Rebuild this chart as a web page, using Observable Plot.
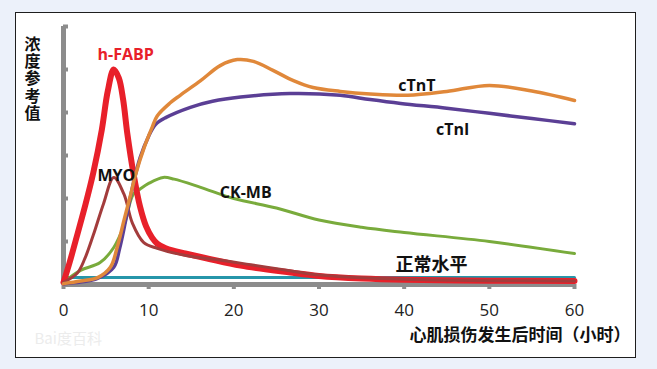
<!DOCTYPE html>
<html>
<head>
<meta charset="utf-8">
<script src="https://cdn.jsdelivr.net/npm/d3@7"></script>
<script src="https://cdn.jsdelivr.net/npm/@observablehq/plot@0.6"></script>
<style>
  html, body { margin: 0; padding: 0; background: #ecf1fa; width: 657px; height: 369px; overflow: hidden; }
  #box { position: absolute; left: 15px; top: 12px; width: 621px; height: 346px; background: #fff; border: 1.5px solid #1e1e1e; box-sizing: border-box; }
  #chart { position: absolute; left: 0; top: 0; }
</style>
</head>
<body>
<div id="box"></div>
<div id="chart"></div>
<script>
// ---- data (hours after myocardial injury, relative concentration) ----
const hfabpT = [0,0.7,1.4,2.5,3.5,4.5,5.2,5.9,6.5,7,7.5,8.2,9,9.7,10.4,11,12,13,14.3,17,20.8,26.6,30,35,40,50,60];
const hfabpV = [0.05,0.5,1.0,1.8,2.6,3.6,4.5,5.0,4.8,4.3,3.5,2.6,1.8,1.35,1.09,0.95,0.84,0.78,0.72,0.6,0.44,0.28,0.2,0.14,0.11,0.09,0.08];

const myoT = [0,1.6,2.5,3.5,4.7,5.9,7.1,8.1,9.4,11,14.5,18,22,26.6,30,40,50,60];
const myoV = [0.05,0.26,0.6,1.15,1.88,2.49,2.1,1.42,0.98,0.84,0.67,0.58,0.46,0.32,0.22,0.12,0.09,0.08];

const ckmbT = [0,2,4.3,5.9,7.1,8.2,9,10,11.7,13,16.1,20,25,30,35,40,50,60];
const ckmbV = [0.05,0.33,0.51,0.86,1.37,2.1,2.22,2.35,2.49,2.45,2.26,2.0,1.78,1.5,1.33,1.21,1.0,0.72];

const ctntT = [0,2,4,5.5,6.3,7.1,7.9,8.5,9.5,10.4,11,12.5,13.7,16.1,18.4,20.4,22.3,24.6,27,29.3,32.5,36,40.4,45,50,55,60];
const ctntV = [0.02,0.08,0.16,0.4,0.86,1.49,2.1,2.58,3.2,3.65,3.92,4.22,4.4,4.74,5.09,5.23,5.19,4.98,4.74,4.58,4.49,4.43,4.4,4.49,4.63,4.5,4.28];

const ctniT = [0,2,4,5.9,6.6,7.3,8.2,9,10,10.8,12,14.9,17.5,20.8,26.6,32.5,36,39.6,45,50,55,60];
const ctniV = [0.02,0.06,0.14,0.4,0.85,1.49,2.35,2.95,3.45,3.72,3.88,4.12,4.26,4.36,4.44,4.4,4.3,4.21,4.1,3.98,3.86,3.74];

const normalT = [0,60];
const normalV = [0.16,0.16];

const xTicks = [0,10,20,30,40,50,60];
const yTicks = [0,1,2,3,4,5,6];

const labelText = ["h-FABP","MYO","CK-MB","cTnT","cTnI","正常水平"];
const labelT    = [7.3, 6.2, 21.4, 41.5, 45.7, 43.2];
const labelV    = [5.35, 2.53, 2.14, 4.63, 3.6, 0.44];

const yTitle = "浓度参考值";
const xTitle = "心肌损伤发生后时间（小时）";
const watermark = "Bai度百科";

// ---- build tables ----
const series = (T, V) => T.map((t, i) => ({t, v: V[i]}));
const labels = labelText.map((text, i) => ({text, t: labelT[i], v: labelV[i]}));

const FONT = "'Open Sans','Noto Sans CJK SC',sans-serif";
const CJK = "'Noto Sans CJK SC',sans-serif";
const AX = "#8c8c8c";

const line = (T, V, color, w) =>
  Plot.line(series(T, V), {x: "t", y: "v", stroke: color, strokeWidth: w, curve: "catmull-rom", strokeLinecap: "round", strokeLinejoin: "round"});

const chart = Plot.plot({
  width: 657,
  height: 369,
  marginLeft: 63,
  marginRight: 83,
  marginTop: 26,
  marginBottom: 85,
  style: {background: "transparent", fontFamily: FONT, overflow: "visible"},
  x: {domain: [0, 60]},
  y: {domain: [0, 6]},
  marks: [
    Plot.axisX({ticks: xTicks, tickSize: 5, tickPadding: 14, stroke: AX, strokeWidth: 4, fontSize: 17, fill: "#222", label: null}),
    Plot.axisY({ticks: yTicks, tickSize: -5, tickFormat: () => "", stroke: AX, strokeWidth: 4, label: null}),
    Plot.ruleX([0], {stroke: AX, strokeWidth: 5}),
    Plot.ruleY([0], {stroke: AX, strokeWidth: 5}),
    line(normalT, normalV, "#2696aa", 3),
    line(ckmbT, ckmbV, "#79ab3c", 3),
    line(hfabpT, hfabpV, "#e8202a", 6),
    line(myoT, myoV, "#a33c3c", 3),
    line(ctniT, ctniV, "#5b3f95", 3.5),
    line(ctntT, ctntV, "#e0883a", 3.5),
    Plot.text(labels.slice(0, 1), {x: "t", y: "v", text: "text", fill: "#e8202a", fontSize: 16, fontWeight: "bold"}),
    Plot.text(labels.slice(1, 5), {x: "t", y: "v", text: "text", fill: "#111", fontSize: 16, fontWeight: "bold"}),
    Plot.text(labels.slice(5), {x: "t", y: "v", text: "text", fill: "#111", fontSize: 18, fontWeight: "bold", fontFamily: CJK}),
    Plot.text([yTitle], {frameAnchor: "top-left", dx: -31, dy: 9, textAnchor: "start", lineAnchor: "bottom", fontSize: 16, fontWeight: "bold", fill: "#111", fontFamily: CJK}),
    Plot.text([xTitle], {frameAnchor: "bottom-right", dx: 56, dy: 56, textAnchor: "end", fontSize: 17, fontWeight: "bold", fill: "#111", fontFamily: CJK}),
    Plot.text([watermark], {frameAnchor: "bottom-left", dx: -29, dy: 59, textAnchor: "start", fontSize: 15, fill: "#ececec", fontFamily: CJK})
  ]
});
// vertical, upright stacking of the y-axis title
d3.select(chart).selectAll("text").filter(function () { return this.textContent === yTitle; })
  .attr("dy", null)
  .style("writing-mode", "vertical-rl")
  .style("text-orientation", "upright")
  .style("letter-spacing", "1.4px");
document.getElementById("chart").appendChild(chart);
</script>
</body>
</html>
